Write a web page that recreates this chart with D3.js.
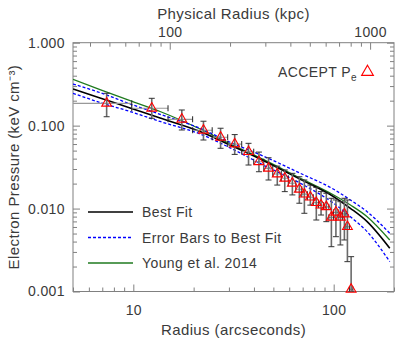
<!DOCTYPE html>
<html><head><meta charset="utf-8">
<script src="https://cdn.jsdelivr.net/npm/d3@7"></script>
<style>body{margin:0;background:#fff}svg{display:block}text{font-family:"Liberation Sans",Arial,sans-serif;fill:#3a3a3a;letter-spacing:0.4px}</style>
</head><body><svg id="c" width="415" height="340"></svg>
<script>
// ---- data ----
const radius   = [7.36,12.36,17.46,22.39,27.26,32.06,37.58,42.36,47.3,52.3,57.0,62.2,67.4,71.4,76.5,81.9,86.5,91.9,97.4,102.6,108.0,113.1,117.1,122.2];
const pressure = [0.186,0.162,0.1193,0.088,0.0724,0.060,0.0485,0.0367,0.0306,0.0261,0.0232,0.0202,0.0171,0.0149,0.0137,0.0118,0.0110,0.0105,0.00785,0.00902,0.00785,0.0086,0.00604,0.00106];
const pressHi  = [0.2455,0.2136,0.1544,0.113,0.093,0.078,0.0612,0.048,0.041,0.0325,0.0292,0.0266,0.0242,0.0221,0.0192,0.018,0.0160,0.0153,0.0133,0.0127,0.0121,0.0133,0.0127,0.00263];
const pressLo  = [0.128,0.1226,0.0886,0.0671,0.0533,0.045,0.0335,0.0278,0.0221,0.0192,0.0160,0.0146,0.0116,0.00877,0.0110,0.00728,0.00836,0.00695,0.00347,0.00458,0.00364,0.00418,0.00229,0.001];
const radiusLo = [4,9.82,14.9,19.77,24.75,29.58,34.75,39.9,44.8,49.66,54.76,59.35,64.7,69.3,73.9,79.1,84.1,89.1,94.6,99.9,105.2,110.5,115.1,119.8];
const radiusHi = [9.82,14.9,19.77,24.75,29.58,34.75,39.9,44.8,49.66,54.76,59.35,64.7,69.3,73.9,79.1,84.1,89.1,94.6,99.9,105.2,110.5,115.1,119.8,124.7];

const curveR     = [5.0,6.82,9.63,13.6,21.55,30.4,44.5,68.2,100,121.2,146.9,190.5];
const bestFit    = [0.277,0.216,0.1632,0.1236,0.0850,0.0584,0.0380,0.0225,0.0139,0.01007,0.00695,0.00332];
const errUpper   = [0.318,0.250,0.183,0.137,0.0929,0.0630,0.0430,0.0266,0.01707,0.01269,0.00917,0.00503];
const errLower   = [0.2455,0.190,0.148,0.1122,0.0793,0.0540,0.0335,0.0202,0.01157,0.00798,0.00526,0.00229];
const young2014  = [0.362,0.272,0.200,0.148,0.091,0.0605,0.0391,0.0232,0.01458,0.01104,0.00798,0.00418];

const yMajor = [0.001,0.01,0.1,1];
const xMajor = [10,100];
const kpcMajor = [100,1000];
const kpcPerArcsec = 6.58;

// ---- layout ----
const L=73, R=394, T=42.7, B=291.5;
const svg = d3.select("#c");
const x = d3.scaleLog().domain([5,200]).range([L,R]);
const y = d3.scaleLog().domain([0.001,1]).range([B,T]);
const xk = d3.scaleLog().domain([5*kpcPerArcsec,200*kpcPerArcsec]).range([L,R]);

const minorOf = (s, majors) => s.ticks(20).filter(v => !majors.some(m => Math.abs(v/m-1)<1e-6));
const axColor = "#808080";
function styleAxis(g){ g.select(".domain").remove(); g.selectAll("line").attr("stroke",axColor); g.selectAll("text").attr("fill","#3a3a3a").style("font-size","14px").attr("font-family",null); }

// frame
svg.append("rect").attr("x",L).attr("y",T).attr("width",R-L).attr("height",B-T).attr("fill","none").attr("stroke",axColor).attr("stroke-width",1);

// left axis
svg.append("g").attr("transform",`translate(${L},0)`).call(d3.axisLeft(y).tickValues(yMajor).tickSizeInner(-7).tickSizeOuter(0).tickPadding(8).tickFormat(d3.format(".3f"))).call(styleAxis);
svg.append("g").attr("transform",`translate(${L},0)`).call(d3.axisLeft(y).tickValues(minorOf(y,yMajor)).tickSizeInner(-4).tickSizeOuter(0).tickFormat("")).call(styleAxis);
// right axis
svg.append("g").attr("transform",`translate(${R},0)`).call(d3.axisRight(y).tickValues(yMajor).tickSizeInner(-7).tickSizeOuter(0).tickFormat("")).call(styleAxis);
svg.append("g").attr("transform",`translate(${R},0)`).call(d3.axisRight(y).tickValues(minorOf(y,yMajor)).tickSizeInner(-4).tickSizeOuter(0).tickFormat("")).call(styleAxis);
// bottom axis
svg.append("g").attr("transform",`translate(0,${B})`).call(d3.axisBottom(x).tickValues(xMajor).tickSizeInner(-7).tickSizeOuter(0).tickPadding(14).tickFormat(d3.format("d"))).call(styleAxis);
svg.append("g").attr("transform",`translate(0,${B})`).call(d3.axisBottom(x).tickValues(minorOf(x,xMajor)).tickSizeInner(-4).tickSizeOuter(0).tickFormat("")).call(styleAxis);
// top axis (kpc)
svg.append("g").attr("transform",`translate(0,${T})`).call(d3.axisTop(xk).tickValues(kpcMajor).tickSizeInner(-7).tickSizeOuter(0).tickPadding(6).tickFormat(d3.format("d"))).call(styleAxis);
svg.append("g").attr("transform",`translate(0,${T})`).call(d3.axisTop(xk).tickValues(minorOf(xk,kpcMajor)).tickSizeInner(-4).tickSizeOuter(0).tickFormat("")).call(styleAxis);

// titles
svg.append("text").attr("x",(L+R)/2).attr("y",19).attr("text-anchor","middle").style("font-size","15px").text("Physical Radius (kpc)");
svg.append("text").attr("x",(L+R)/2).attr("y",335).attr("text-anchor","middle").style("font-size","15px").text("Radius (arcseconds)");
svg.append("text").attr("transform",`translate(19,${(T+B)/2}) rotate(-90)`).attr("text-anchor","middle").style("font-size","15px").text("Electron Pressure (keV cm⁻³)");

// plot area clip
svg.append("clipPath").attr("id","clip").append("rect").attr("x",L).attr("y",T).attr("width",R-L).attr("height",B-T);
const plot = svg.append("g").attr("clip-path","url(#clip)");

// curves
const line = vals => d3.line().x((d,i)=>x(curveR[i])).y(d=>y(d)).curve(d3.curveMonotoneX)(vals);
plot.append("path").attr("d",line(young2014)).attr("fill","none").attr("stroke","#1f7a1f").attr("stroke-width",1.3);
plot.append("path").attr("d",line(bestFit)).attr("fill","none").attr("stroke","#000").attr("stroke-width",1.6);
[errUpper,errLower].forEach(v=>plot.append("path").attr("d",line(v)).attr("fill","none").attr("stroke","#0000ff").attr("stroke-width",1.3).attr("stroke-dasharray","3,2"));

// error bars
const eb = plot.append("g");
radius.forEach((r,i)=>{
  const cx=x(r), cy=y(pressure[i]);
  eb.append("line").attr("x1",x(radiusLo[i])).attr("x2",x(radiusHi[i])).attr("y1",cy).attr("y2",cy).attr("stroke","#999").attr("stroke-width",1.2);
  [radiusLo[i],radiusHi[i]].forEach(v=>eb.append("line").attr("x1",x(v)).attr("x2",x(v)).attr("y1",cy-3).attr("y2",cy+3).attr("stroke","#222").attr("stroke-width",1));
  eb.append("line").attr("x1",cx).attr("x2",cx).attr("y1",y(pressHi[i])).attr("y2",y(pressLo[i])).attr("stroke","#6a6a6a").attr("stroke-width",1.6);
  [pressHi[i],pressLo[i]].forEach(v=>eb.append("line").attr("x1",cx-3).attr("x2",cx+3).attr("y1",y(v)).attr("y2",y(v)).attr("stroke","#333").attr("stroke-width",1));
});
// triangles
const tri = d3.symbol().type(d3.symbolTriangle).size(42);
svg.append("g").selectAll("path").data(radius).join("path")
  .attr("d",tri).attr("transform",(r,i)=>`translate(${x(r)},${y(pressure[i])})`)
  .attr("fill","none").attr("stroke","#ff0000").attr("stroke-width",1.1);

// legend
const leg = [["Best Fit","#000",null,1.6],["Error Bars to Best Fit","#0000ff","3,2",1.3],["Young et al. 2014","#1f7a1f",null,1.3]];
leg.forEach((d,i)=>{
  const ly = 212 + i*25.5;
  svg.append("line").attr("x1",88).attr("x2",133).attr("y1",ly).attr("y2",ly).attr("stroke",d[1]).attr("stroke-width",d[3]).attr("stroke-dasharray",d[2]);
  svg.append("text").attr("x",142).attr("y",ly+5).style("font-size","14px").text(d[0]);
});
// ACCEPT label
const at = svg.append("text").attr("x",278).attr("y",77).style("font-size","14px");
at.append("tspan").text("ACCEPT P");
at.append("tspan").attr("dy",4).style("font-size","10px").text("e");
svg.append("path").attr("d",d3.symbol().type(d3.symbolTriangle).size(60)).attr("transform","translate(367.5,72)").attr("fill","none").attr("stroke","#ff0000").attr("stroke-width",1.1);
</script></body></html>
